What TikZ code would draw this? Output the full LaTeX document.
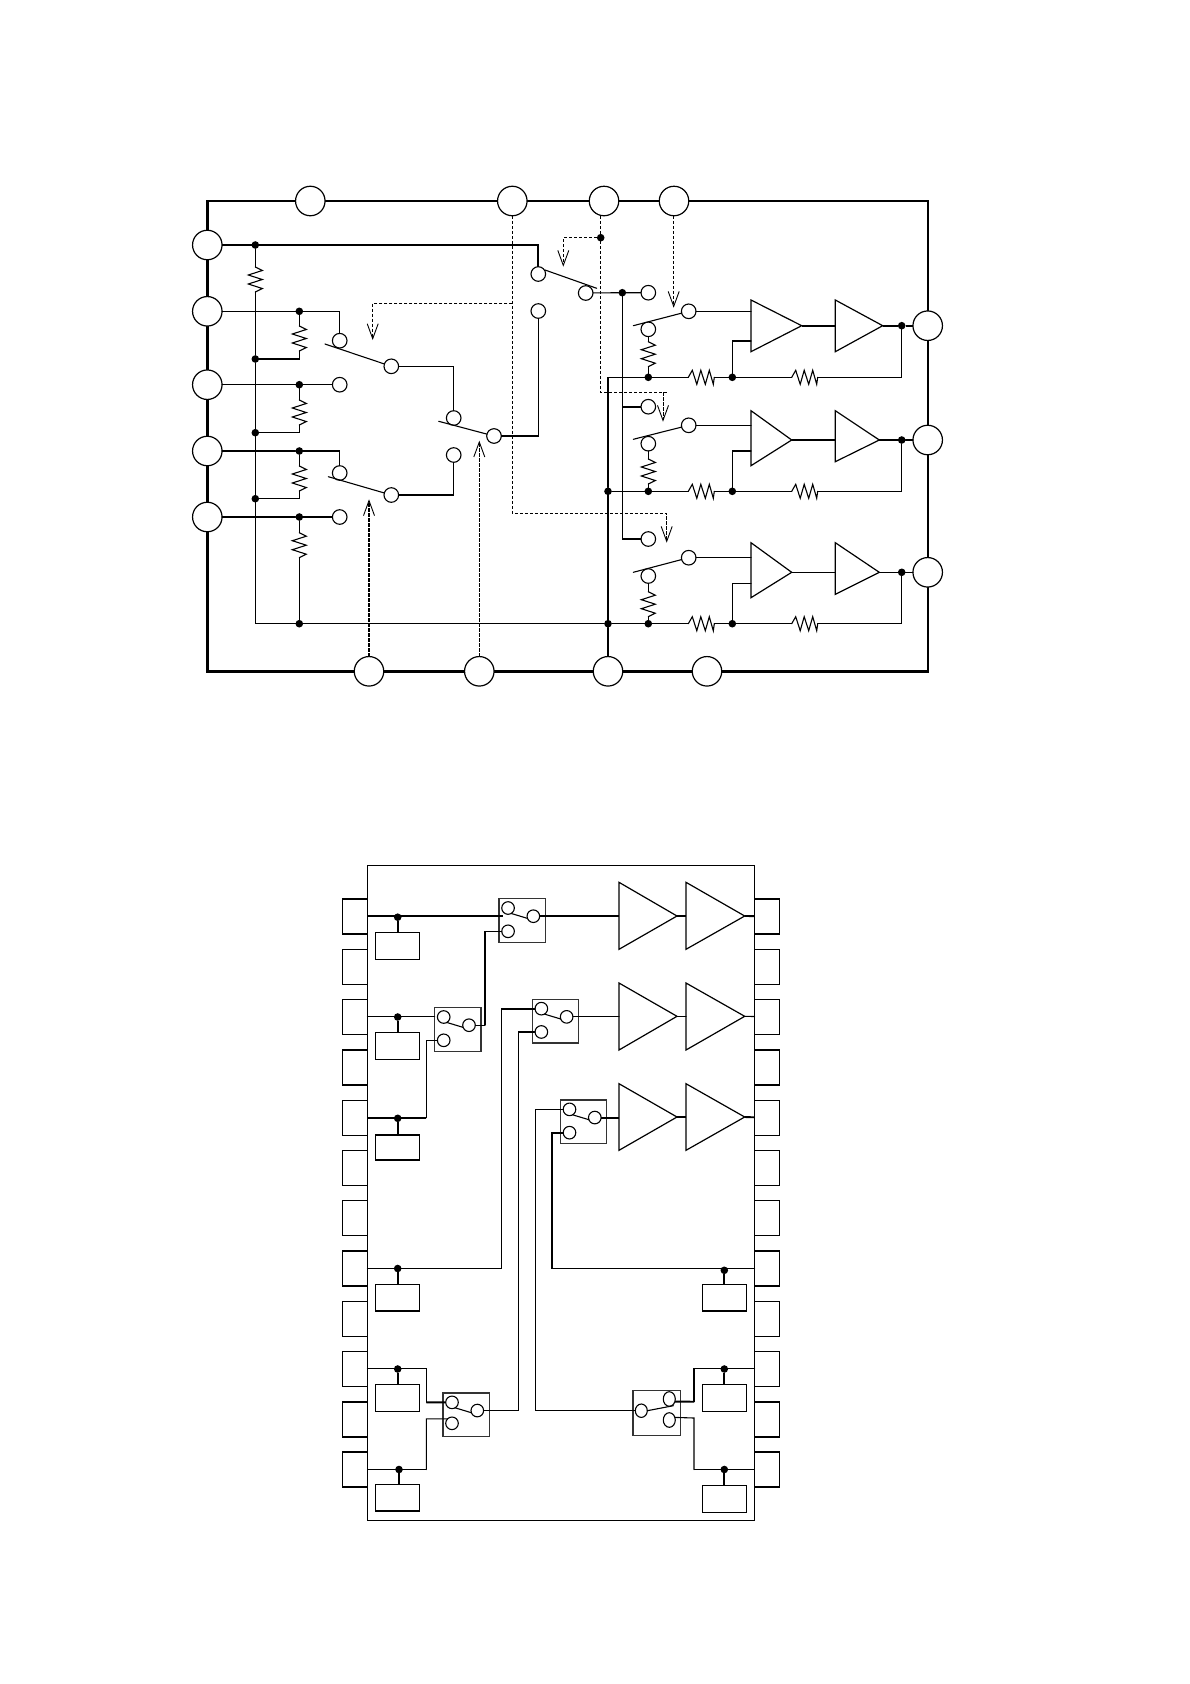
\documentclass[tikz,border=0pt]{standalone}
\usetikzlibrary{calc,arrows.meta,shapes.geometric}
\tikzset{
  wire/.style={line width=1.1pt,black,line cap=round,line join=miter},
  heavy/.style={line width=1.9pt,black,line join=miter},
  ctrl/.style={line width=0.9pt,black,dash pattern=on 3.3pt off 1.7pt,-{Straight Barb[length=15pt,width=11pt,line width=0.9pt]}},
  ctrlfat/.style={ctrl,line width=1.5pt},
  ctrlplain/.style={line width=0.9pt,black,dash pattern=on 3.3pt off 1.7pt},
  bigpin/.style={circle,draw=black,line width=1.2pt,fill=white,minimum size=29.5pt,inner sep=0pt,outer sep=0pt},
  term/.style={circle,draw=black,line width=1.1pt,fill=white,minimum size=14.6pt,inner sep=0pt,outer sep=0pt},
  sterm/.style={circle,draw=black,line width=1.1pt,fill=white,minimum size=12.6pt,inner sep=0pt,outer sep=0pt},
  eterm/.style={ellipse,draw=black,line width=1.1pt,fill=white,minimum width=12pt,minimum height=14.6pt,inner sep=0pt,outer sep=0pt},
  junction/.style={circle,fill=black,minimum size=7.6pt,inner sep=0pt,outer sep=0pt},
  swbox/.style={rectangle,draw=black!80,line width=1.2pt,fill=white,minimum width=46.3pt,minimum height=43.6pt,inner sep=0pt,outer sep=0pt},
  smallbox/.style={rectangle,draw=black,line width=1.2pt,minimum width=44.2pt,minimum height=26.7pt,inner sep=0pt,outer sep=0pt},
  icpin/.style={rectangle,draw=black,minimum width=25pt,minimum height=35pt,inner sep=0pt,outer sep=0pt},
  resv/.pic={\draw[wire] (0,0)--(7,3.5)--(-7,8)--(7,12.5)--(-7,17)--(7,21.5)--(0,25);
    \coordinate (-a) at (0,0); \coordinate (-b) at (0,25);},
  resh/.pic={\draw[wire] (0,0)--(4,-7)--(8.5,7)--(12.5,-7)--(17,7)--(21,-7)--(25,7)--(26,0);
    \coordinate (-a) at (0,0); \coordinate (-b) at (26,0);},
}
% name, x of base, y top, y bottom, x of tip, y of tip
\newcommand\AmpTri[6]{%
  \coordinate (#1) at (#5,#6);
  \coordinate (#1w) at (#2,#3);
  \draw[line width=1.2pt,line join=miter] (#2,#3)--(#2,#4)--(#5,#6)--cycle;
}
% name, box centre x, y, offset of lower contact
\newcommand\SwBox[4]{%
  \node[swbox] (#1) at (#2,#3) {};
  \node[sterm] (#1U) at ($(#1)+(-14.15,-12.5)$) {};
  \node[sterm] (#1L) at ($(#1)+(-14.15,#4)$) {};
  \node[sterm] (#1C) at ($(#1)+(11.15,-4.3)$) {};
  \draw[wire] (#1U.-60) -- (#1C.200);
}
\begin{document}
\begin{tikzpicture}[x=1pt,y=-1pt]
\path[use as bounding box,fill=white] (0,0) rectangle (1190,1684);

%% ---------- upper diagram ----------
\node[rectangle,draw=black,line width=2.4pt,minimum width=720.4pt,minimum height=470.3pt,inner sep=0pt,outer sep=0pt] (frame) at (567.5,436.15) {};

\node[bigpin] (T1) at (310.3,201) {};
\node[bigpin] (T2) at (512.3,201) {};
\node[bigpin] (T3) at (604,201) {};
\node[bigpin] (T4) at (674,201) {};
\node[bigpin] (L1) at (207.3,245) {};
\node[bigpin] (L2) at (207.3,311.3) {};
\node[bigpin] (L3) at (207.3,384.7) {};
\node[bigpin] (L4) at (207.3,451) {};
\node[bigpin] (L5) at (207.3,517) {};
\node[bigpin] (R1) at (927.7,325.7) {};
\node[bigpin] (R2) at (927.7,440) {};
\node[bigpin] (R3) at (927.7,572.3) {};
\node[bigpin] (B1) at (369,671.3) {};
\node[bigpin] (B2) at (479.3,671.3) {};
\node[bigpin] (B3) at (608,671.3) {};
\node[bigpin] (B4) at (707,671.3) {};

% junctions, left
\node[junction] (ja1) at (255.3,245) {};
\node[junction] (ja2) at (255.3,359) {};
\node[junction] (ja3) at (255.3,432.7) {};
\node[junction] (ja4) at (255.3,498.7) {};
\node[junction] (jb1) at (299.3,311.3) {};
\node[junction] (jb2) at (299.3,384.7) {};
\node[junction] (jb3) at (299.3,451) {};
\node[junction] (jb4) at (299.3,517) {};
\node[junction] (jb5) at (299.3,623.7) {};
\coordinate (cbus) at (255.3,623.7);

% contacts
\node[term] (A1) at (339.7,340.7) {};
\node[term] (A2) at (339.7,384.7) {};
\node[term] (Ac) at (391.3,366.3) {};
\node[term] (E1) at (339.7,473) {};
\node[term] (E2) at (339.7,517) {};
\node[term] (Ec) at (391.3,495) {};
\node[term] (C1) at (453.7,418) {};
\node[term] (C2) at (453.7,455) {};
\node[term] (Cc) at (494,436) {};
\node[term] (D1) at (538.3,274) {};
\node[term] (D2) at (538.3,311) {};
\node[term] (Dc) at (585.7,293) {};
\node[junction] (jd) at (622.3,292.7) {};
\node[term] (F1) at (648.3,292.7) {};
\node[term] (F2) at (648.3,406.7) {};
\node[term] (F3) at (648.3,539) {};
\node[term] (O1) at (688.7,311.3) {};
\node[term] (O2) at (688.7,425.3) {};
\node[term] (O3) at (688.7,557.7) {};
\node[term] (G1) at (648.3,329.3) {};
\node[term] (G2) at (648.3,443.7) {};
\node[term] (G3) at (648.3,576) {};

% switch blades
\coordinate (Af) at (325,344);
\coordinate (Ef) at (328.3,476.7);
\coordinate (Cf) at (438.7,421.3);
\coordinate (Df) at (545,270);
\coordinate (Dg) at (596.7,288.3);
\coordinate (Of1) at (633.3,325.7);
\coordinate (Of2) at (633.3,439.3);
\coordinate (Of3) at (633.3,572.3);
\draw[wire] (Af) -- (Ac);
\draw[wire] (Ef) -- (Ec);
\draw[wire] (Cf) -- (Cc);
\draw[wire] (Df) -- (Dg);
\draw[wire] (Of1) -- (O1);
\draw[wire] (Of2) -- (O2);
\draw[wire] (Of3) -- (O3);

% resistors, left
\pic (ra) at (255.3,267) {resv};
\pic (rb) at (299.3,326) {resv};
\pic (rc) at (299.3,400) {resv};
\pic (rd) at (299.3,466) {resv};
\pic (re) at (299.3,532.7) {resv};

% left wiring
\draw[heavy] (L1) -- (ja1) -| (D1);
\draw[wire] (ja1) -- (ra-a);
\draw[wire] (ra-b) -- (ja2) -- (ja3) -- (ja4) -- (cbus) -- (jb5);
\draw[wire] (L2) -- (jb1) -| (A1);
\draw[wire] (L3) -- (jb2) -- (A2);
\draw[wire] (L4) -- (jb3) -| (E1);
\draw[wire] (L5) -- (jb4) -- (E2);
\draw[wire] (jb1) -- (rb-a);
\draw[wire] (rb-b) |- (ja2);
\draw[wire] (jb2) -- (rc-a);
\draw[wire] (rc-b) |- (ja3);
\draw[wire] (jb3) -- (rd-a);
\draw[wire] (rd-b) |- (ja4);
\draw[wire] (jb4) -- (re-a);
\draw[wire] (re-b) -- (jb5);
\draw[wire] (Ac) -| (C1);
\draw[wire] (Ec) -| (C2);
\draw[wire] (Cc) -| (D2);

% right: selector outputs
\draw[wire] (Dc) -- (jd) -- (F1);
\draw[wire] (jd) |- (F3);
\draw[heavy] (jd |- F2) -- (F2);

% amplifiers
\AmpTri{a1}{751}{300}{351.7}{801.7}{325.7}
\AmpTri{b1}{835.3}{300}{351.7}{882.7}{325.7}
\AmpTri{a2}{751}{410.7}{465.7}{791.7}{440}
\AmpTri{b2}{835.3}{410.7}{461.7}{879.3}{440}
\AmpTri{a3}{751}{542.7}{597.7}{791.7}{572.3}
\AmpTri{b3}{835.3}{542.7}{594.3}{879.3}{572.3}

\node[junction] (o1) at (901.7,325.7) {};
\node[junction] (o2) at (901.7,440) {};
\node[junction] (o3) at (901.7,572.3) {};
\node[junction] (g1) at (648.3,377.3) {};
\node[junction] (g2) at (648.3,491.3) {};
\node[junction] (g3) at (648.3,623.7) {};
\node[junction] (n1) at (732.3,377.3) {};
\node[junction] (n2) at (732.3,491.3) {};
\node[junction] (n3) at (732.3,623.7) {};
\node[junction] (v2) at (608,491.3) {};
\node[junction] (v3) at (608,623.7) {};
\coordinate (v1) at (608,377.3);
\coordinate (fb1) at (751,341);
\coordinate (fb2) at (751,451);
\coordinate (fb3) at (751,583.3);

\pic (h1) at (688.3,377.3) {resh};
\pic (k1) at (791.7,377.3) {resh};
\pic (h2) at (688.3,491.3) {resh};
\pic (k2) at (791.7,491.3) {resh};
\pic (h3) at (688.3,623.7) {resh};
\pic (k3) at (791.7,623.7) {resh};
\pic (s1) at (648.3,341.7) {resv};
\pic (s2) at (648.3,459) {resv};
\pic (s3) at (648.3,591.7) {resv};

\draw[wire] (jb5) -- (v3);
\draw[wire] (B3) -- (v3) -- (v2) -- (v1) -- (g1);
\draw[wire] (g1) -- (h1-a); \draw[wire] (h1-b) -- (n1) -- (k1-a); \draw[wire] (k1-b) -| (o1);
\draw[wire] (v2) -- (g2) -- (h2-a); \draw[wire] (h2-b) -- (n2) -- (k2-a); \draw[wire] (k2-b) -| (o2);
\draw[wire] (v3) -- (g3) -- (h3-a); \draw[wire] (h3-b) -- (n3) -- (k3-a); \draw[wire] (k3-b) -| (o3);
\draw[wire] (G1) -- (s1-a); \draw[wire] (s1-b) -- (g1);
\draw[wire] (G2) -- (s2-a); \draw[wire] (s2-b) -- (g2);
\draw[wire] (G3) -- (s3-a); \draw[wire] (s3-b) -- (g3);
\draw[wire] (O1) -- (O1 -| a1w);
\draw[wire] (O2) -- (O2 -| a2w);
\draw[wire] (O3) -- (O3 -| a3w);
\draw[wire] (n1) |- (fb1);
\draw[wire] (n2) |- (fb2);
\draw[wire] (n3) |- (fb3);
\draw[heavy] (a1) -- (a1 -| b1w);
\draw[wire] (a2) -- (a2 -| b2w);
\draw[wire] (a3) -- (a3 -| b3w);
\draw[heavy] (b1) -- (o1) -- (R1);
\draw[wire] (b2) -- (o2) -- (R2);
\draw[wire] (b3) -- (o3) -- (R3);

% control lines
\node[junction] (jc) at (600.7,237.7) {};
\coordinate (q1) at (512.3,303.3);
\coordinate (q2) at (512.3,513.3);
\coordinate (tipA) at (372.7,340);
\coordinate (tipE) at (666.7,542.7);
\coordinate (tipD) at (563.3,266.7);
\coordinate (q3) at (600.7,392.3);
\coordinate (q4) at (666.7,392.3);
\coordinate (q5) at (663,392.3);
\coordinate (tipF) at (663,421.7);
\coordinate (tipO) at (673.7,307.7);
\coordinate (tipB) at (369,499.3);
\coordinate (tipC) at (479.3,440.7);
\draw[ctrl] (T2.south) -- (q2) -| (tipE);
\draw[ctrl] (q1) -| (tipA);
\draw[ctrlplain] (jc |- T3.south) -- (q3) -- (q4);
\draw[ctrl] (q5) -- (tipF);
\draw[ctrl] (jc) -| (tipD);
\draw[ctrlfat] (tipO |- T4.south) -- (tipO);
\draw[ctrlfat] (B1.north) -- (tipB);
\draw[ctrl] (B2.north) -- (tipC);

%% ---------- lower diagram ----------
\node[rectangle,draw=black,line width=1.1pt,minimum width=387.4pt,minimum height=655pt,inner sep=0pt,outer sep=0pt] (body) at (561,1192.8) {};
\foreach \n/\y/\w in {1/916.2/1.6,2/966.7/1.1,3/1016.8/1.1,4/1067.5/1.6,5/1117.7/1.3,6/1167.8/1.1,7/1217.8/1.1,8/1268.5/1.6,9/1319.3/1.1,10/1368.8/1.1,11/1419.3/1.6,12/1469.5/1.6}{
  \node[icpin,line width=\w pt] (p\n) at (354.8,\y) {};
  \node[icpin,line width=\w pt] (r\n) at (767,\y) {};
}
% tap boxes
\node[smallbox] (bx1) at (397.5,945.8) {};
\node[smallbox] (bx2) at (397.5,1046) {};
\node[smallbox,minimum height=25pt] (bx3) at (397.5,1147.5) {};
\node[smallbox] (bx4) at (397.5,1297.7) {};
\node[smallbox] (bx5) at (397.5,1398) {};
\node[smallbox] (bx6) at (397.5,1497.7) {};
\node[smallbox] (by1) at (724.7,1297.7) {};
\node[smallbox] (by2) at (724.7,1398) {};
\node[smallbox] (by3) at (724.7,1499) {};
\node[junction] (t1) at (397.7,917.2) {};
\node[junction] (t2) at (397.7,1017) {};
\node[junction] (t3) at (397.7,1118.3) {};
\node[junction] (t4) at (397.7,1268.5) {};
\node[junction] (t5) at (397.7,1369) {};
\node[junction] (t6) at (399,1469.5) {};
\node[junction] (u1) at (724.3,1270.3) {};
\node[junction] (u2) at (724.3,1369) {};
\node[junction] (u3) at (724.3,1469.5) {};
\draw[heavy] (t1) -- (t1 |- bx1.north);
\draw[heavy] (t2) -- (t2 |- bx2.north);
\draw[heavy] (t3) -- (t3 |- bx3.north);
\draw[heavy] (t4) -- (t4 |- bx4.north);
\draw[heavy] (t5) -- (t5 |- bx5.north);
\draw[heavy] (t6) -- (t6 |- bx6.north);
\draw[heavy] (u1) -- (u1 |- by1.north);
\draw[heavy] (u2) -- (u2 |- by2.north);
\draw[heavy] (u3) -- (u3 |- by3.north);

% switches
\SwBox{sa}{522.2}{920.5}{10.8}
\SwBox{sb}{457.85}{1029.5}{10.8}
\SwBox{sc}{555.5}{1021.15}{10.8}
\SwBox{sd}{583.65}{1121.85}{10.8}
\SwBox{se}{466.15}{1414.85}{8.45}
\node[swbox,minimum width=47.7pt,minimum height=45pt] (sf) at (656.85,1412.8) {};
\node[sterm,ellipse,minimum width=12pt,minimum height=13.4pt] (sfC) at (641.3,1410.7) {};
\node[eterm] (sfU) at (669.3,1399) {};
\node[eterm] (sfL) at (669.3,1420) {};
\coordinate (sfB) at (673.3,1405.7);
\draw[wire] (sfC.east) -- (sfB);

% amplifiers
\AmpTri{ax}{619}{882.3}{949.3}{677}{916}
\AmpTri{bx}{686}{882.3}{949.3}{744.7}{916}
\AmpTri{ay}{619}{983}{1050}{677}{1016.3}
\AmpTri{by}{686}{983}{1050}{744.7}{1016.3}
\AmpTri{az}{619}{1083.7}{1150.3}{677}{1117}
\AmpTri{bz}{686}{1083.7}{1150.3}{744.7}{1117}

% routing columns
\coordinate (w1) at (503.3,916.2);
\coordinate (c1) at (485,980);
\coordinate (c2) at (426.3,1080);
\coordinate (c3) at (501.7,1100);
\coordinate (c4) at (518.7,1200);
\coordinate (c5) at (535.3,1250);
\coordinate (c6) at (551.7,1200);
\coordinate (c7) at (426.3,1385);
\coordinate (c7a) at (426.3,1402.3);
\coordinate (c8) at (426.3,1418.8);
\coordinate (c9) at (426.3,1469.5);
\coordinate (c10) at (694,1401.7);
\coordinate (c11) at (694,1418);
\coordinate (c12) at (694,1469.5);

\draw[heavy] (p1) -- (w1);
\draw[heavy] (saC) -- (saC -| axw);
\draw[heavy] (ax) -- (ax -| bxw);
\draw[heavy] (bx) -- (r1);
\draw[wire] (sbC) -- (sbC -| c1);
\draw[heavy] (sbC -| c1) -- (c1 |- saL);
\draw[wire] (c1 |- saL) -- (saL);
\draw[wire] (p3) -- (sb.west |- p3);
\draw[heavy] (p5) -- (p5 -| c2);
\draw[wire] (p5 -| c2) |- (sbL);
\draw[wire] (scC) -- (scC -| ayw);
\draw[wire] (ay) -- (ay -| byw);
\draw[wire] (by) -- (r3);
\draw[wire] (p8) -| (c3);
\draw[wire] (c3) |- (scU);
\draw[heavy] (c3 |- scU) -- (scU);
\draw[wire] (seC) -| (c4);
\draw[wire] (c4) |- (scL);
\draw[heavy] (c4 |- scL) -- (scL);
\draw[heavy] (sdC) -- (sdC -| azw);
\draw[heavy] (az) -- (az -| bzw);
\draw[heavy] (bz) -- (r5);
\draw[wire] (sfC) -| (c5);
\draw[wire] (c5) |- (sdU);
\draw[heavy] (sdL) -| (c6);
\draw[heavy] (c6) |- (r8 -| c6);
\draw[wire] (r8 -| c6) -- (r8);
\draw[wire] (p10) -| (c7a);
\draw[heavy] (c7a) -- (seU);
\draw[wire] (seL.135) -- (c8) -- (c9);
\draw[heavy] (c9) -- (p12);
\draw[heavy] (sfU.-25) -- (c10);
\draw[wire] (c10) |- (r10);
\draw[wire] (sfL.25) -- (c11) -- (c12);
\draw[heavy] (c12) -- (r12);
\end{tikzpicture}
\end{document}
